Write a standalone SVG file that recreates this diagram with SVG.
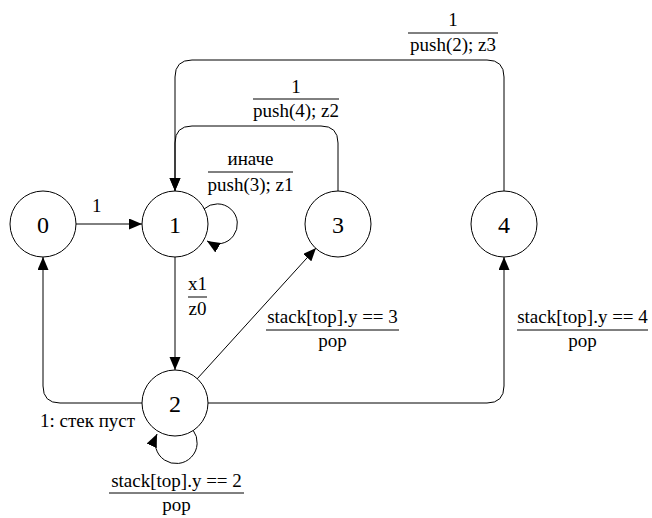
<svg xmlns="http://www.w3.org/2000/svg" width="652" height="518" viewBox="0 0 652 518">
<style>
.node circle{fill:#fff;stroke:#000;stroke-width:1}
.node text{font-size:24px;text-anchor:middle;fill:#000}
.edge{fill:none;stroke:#000;stroke-width:1}
.lbl{font-size:19px;fill:#000}
.c{text-anchor:middle}
.bar{stroke:#000;stroke-width:1}
</style>
<defs>
<marker id="arr" markerUnits="userSpaceOnUse" markerWidth="14" markerHeight="12" refX="13" refY="5.5" orient="auto">
<path d="M0,0 L13,5.5 L0,11 z" fill="#000"/>
</marker>
</defs>
<rect width="652" height="518" fill="#fff"/>
<g id="connectors">
<path class="edge" d="M76,224 H142" marker-end="url(#arr)"/>
<path class="edge" d="M204,209 A20 20 0 1 1 207,241" marker-end="url(#arr)"/>
<path class="edge" d="M338,191 V143 Q338,126 321,126 H192 Q175,126 175,143 V191" marker-end="url(#arr)"/>
<path class="edge" d="M504,191 V77 Q504,60 487,60 H192 Q175,60 175,77 V191" marker-end="url(#arr)"/>
<path class="edge" d="M175,257 V370" marker-end="url(#arr)"/>
<path class="edge" d="M142,403 H60 Q43,403 43,386 V257" marker-end="url(#arr)"/>
<path class="edge" d="M197,379 L316,248" marker-end="url(#arr)"/>
<path class="edge" d="M208,403 H487 Q504,403 504,386 V257" marker-end="url(#arr)"/>
<path class="edge" d="M193,430 A21 21 0 1 1 157,434" marker-end="url(#arr)"/>
</g>
<g id="labels" font-family="'Liberation Serif', 'Times New Roman', Times, 'DejaVu Serif', serif">
<text class="lbl" x="92" y="212">1</text>
<text class="lbl c" x="250.5" y="165">иначе</text>
<line class="bar" x1="208" y1="172" x2="293" y2="172"/>
<text class="lbl c" x="250.5" y="191">push(3); z1</text>
<text class="lbl c" x="296" y="93">1</text>
<line class="bar" x1="253" y1="99" x2="339" y2="99"/>
<text class="lbl c" x="296" y="117">push(4); z2</text>
<text class="lbl c" x="453" y="26">1</text>
<line class="bar" x1="408" y1="33" x2="498" y2="33"/>
<text class="lbl c" x="453" y="51">push(2); z3</text>
<text class="lbl c" x="197.5" y="290">x1</text>
<line class="bar" x1="188" y1="297" x2="207" y2="297"/>
<text class="lbl c" x="197.5" y="315">z0</text>
<text class="lbl c" x="332.5" y="323">stack[top].y == 3</text>
<line class="bar" x1="266" y1="330" x2="399" y2="330"/>
<text class="lbl c" x="332.5" y="347">pop</text>
<text class="lbl c" x="582.5" y="323">stack[top].y == 4</text>
<line class="bar" x1="517" y1="330" x2="648" y2="330"/>
<text class="lbl c" x="582.5" y="347">pop</text>
<text class="lbl" x="40" y="427">1: стек пуст</text>
<text class="lbl c" x="176.5" y="487">stack[top].y == 2</text>
<line class="bar" x1="109" y1="493" x2="244" y2="493"/>
<text class="lbl c" x="176.5" y="511">pop</text>
</g>
<g id="nodes" font-family="'Liberation Serif', 'Times New Roman', Times, 'DejaVu Serif', serif">
<g id="node0" class="node"><circle cx="43" cy="224" r="33"/><text x="43" y="233">0</text></g>
<g id="node1" class="node"><circle cx="175" cy="224" r="33"/><text x="175" y="233">1</text></g>
<g id="node2" class="node"><circle cx="175" cy="403" r="33"/><text x="175" y="412">2</text></g>
<g id="node3" class="node"><circle cx="338" cy="224" r="33"/><text x="338" y="233">3</text></g>
<g id="node4" class="node"><circle cx="504" cy="224" r="33"/><text x="504" y="233">4</text></g>
</g>
</svg>
